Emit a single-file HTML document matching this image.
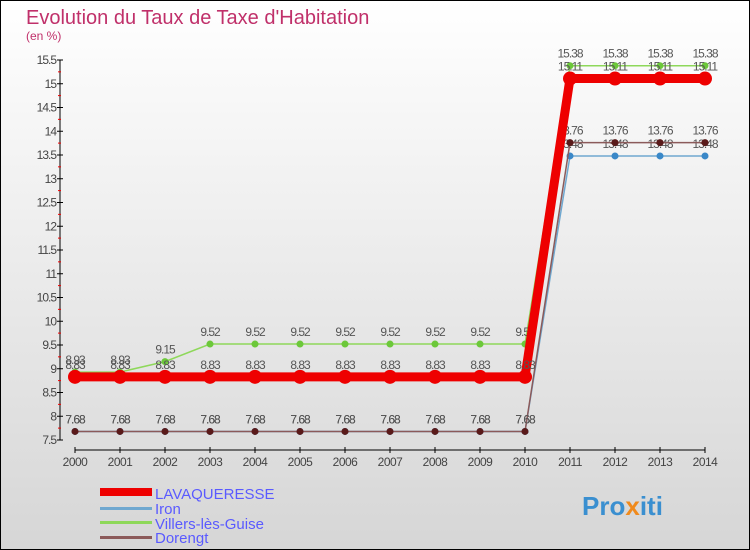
<!DOCTYPE html>
<html><head><meta charset="utf-8"><style>
body{margin:0}
svg{display:block;font-family:"Liberation Sans",sans-serif}
</style></head><body>
<svg id="c" width="750" height="550" viewBox="0 0 750 550">
<defs><linearGradient id="bg" x1="0" y1="0" x2="0" y2="1"><stop offset="0" stop-color="#ffffff"/><stop offset="1" stop-color="#d6d6d6"/></linearGradient></defs>
<rect x="0.5" y="0.5" width="749" height="549" fill="url(#bg)" stroke="#000"/>
<text x="26" y="24" font-size="20" fill="#c0306a">Evolution du Taux de Taxe d'Habitation</text>
<text x="26" y="40" font-size="12" fill="#c0306a">(en %)</text>
<g id="axes"></g><g id="series"></g>
<g>
<rect x="100" y="488" width="52" height="8" fill="#e00"/>
<text x="155" y="499" font-size="15" fill="#5a5aff">LAVAQUERESSE</text>
<rect x="100" y="507" width="52" height="3" fill="#6fa8d0"/>
<text x="155" y="514" font-size="15" fill="#5a5aff">Iron</text>
<rect x="100" y="521" width="52" height="3" fill="#8ed85a"/>
<text x="155" y="529" font-size="15" fill="#5a5aff">Villers-lès-Guise</text>
<rect x="100" y="536" width="52" height="3" fill="#8b5a5a"/>
<text x="155" y="543" font-size="15" fill="#5a5aff">Dorengt</text>
</g>
<text x="582" y="515" font-size="26" font-weight="bold" fill="#3a8fd0">Pro<tspan fill="#f08a1c">x</tspan>iti</text>
</svg>
<script>
const years=[2000,2001,2002,2003,2004,2005,2006,2007,2008,2009,2010,2011,2012,2013,2014];
const lavaqueresse=[8.83,8.83,8.83,8.83,8.83,8.83,8.83,8.83,8.83,8.83,8.83,15.11,15.11,15.11,15.11];
const iron=[7.68,7.68,7.68,7.68,7.68,7.68,7.68,7.68,7.68,7.68,7.68,13.48,13.48,13.48,13.48];
const villers=[8.93,8.93,9.15,9.52,9.52,9.52,9.52,9.52,9.52,9.52,9.52,15.38,15.38,15.38,15.38];
const dorengt=[7.68,7.68,7.68,7.68,7.68,7.68,7.68,7.68,7.68,7.68,7.68,13.76,13.76,13.76,13.76];
const yTicks=["7.5","8","8.5","9","9.5","10","10.5","11","11.5","12","12.5","13","13.5","14","14.5","15","15.5"];
const NS="http://www.w3.org/2000/svg";
const X=i=>75+i*45, Y=v=>440-(v-7.5)*47.5;
function mk(t,a,p){const e=document.createElementNS(NS,t);for(const k in a)e.setAttribute(k,a[k]);p.appendChild(e);return e;}
const ax=document.getElementById('axes');
let l=mk('line',{x1:60,y1:Y(15.5),x2:60,y2:Y(7.5),stroke:'#000'},ax);


yTicks.forEach(t=>{const v=parseFloat(t),y=Y(v);
 mk('line',{x1:57,y1:y,x2:63,y2:y,stroke:'#000'},ax);
 if(v<15.5) mk('line',{x1:58,y1:y-11.9,x2:61,y2:y-11.9,stroke:'#e00'},ax);
 const tx=mk('text',{x:56,y:y+4,'font-size':12,'text-anchor':'end',fill:'#444','letter-spacing':'-1'},ax);tx.textContent=t;
 
 });
l=mk('line',{x1:75,y1:450,x2:705,y2:450,stroke:'#000'},ax);


years.forEach((yr,i)=>{mk('line',{x1:X(i),y1:447,x2:X(i),y2:453,stroke:'#000'},ax);
 const tx=mk('text',{x:X(i),y:466,'font-size':12,'text-anchor':'middle',fill:'#444','letter-spacing':'-0.5'},ax);tx.textContent=yr;
 
 });
const sg=document.getElementById('series');
function series(name,data,color,w,r,dot){
 const g=mk('g',{},sg);
 
 
 mk('polyline',{points:data.map((v,i)=>X(i)+','+Y(v)).join(' '),fill:'none',stroke:color,'stroke-width':w},g);
 data.forEach((v,i)=>{const c=mk('circle',{cx:X(i),cy:Y(v),r:r,fill:dot},g);
  
  
  const t=mk('text',{x:X(i),y:Y(v)-8,'font-size':12,'text-anchor':'middle',fill:'#555','letter-spacing':'-1'},g);t.textContent=v;
  
  });
}
series('iron',iron,'#6fa8d0',1.5,3.5,'#3a88c8');
series('dorengt',dorengt,'#8b5a5a',1.5,3.5,'#5a1a1a');
series('villers',villers,'#8ed85a',1.5,3.5,'#6cc83a');
series('lavaqueresse',lavaqueresse,'#e00',9,7,'#e00');
</script>
</body></html>
